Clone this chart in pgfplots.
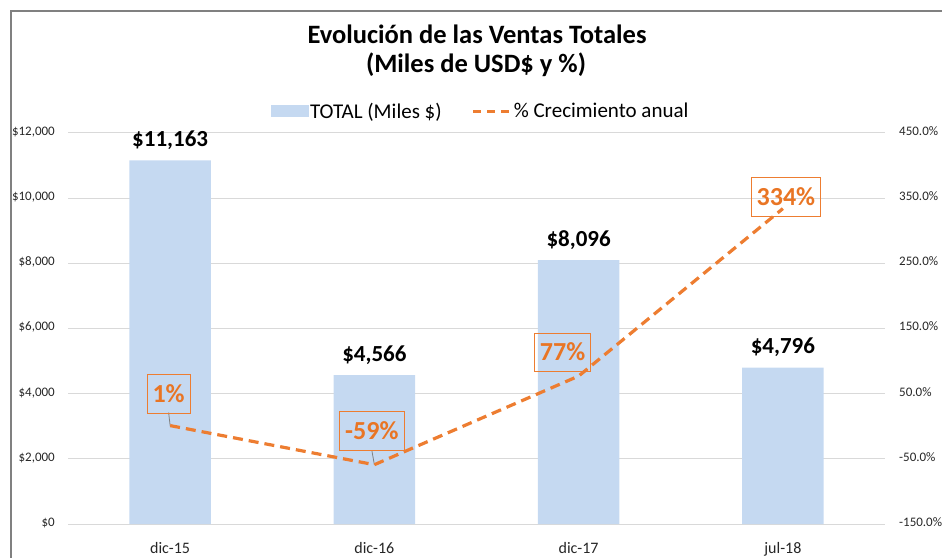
\documentclass[border=0pt]{standalone}
\usepackage{pgfplots}
\pgfplotsset{compat=1.18}
\usepackage{fontspec}
\setmainfont{Carlito}
\definecolor{barblue}{HTML}{C5D9F1}
\definecolor{lineor}{HTML}{ED7D31}
\definecolor{labor}{HTML}{E97524}
\definecolor{gridgray}{HTML}{D9D9D9}
\definecolor{framegray}{HTML}{808080}
\pgfplotsset{/pgf/number format/assume math mode=true}

\begin{document}
\begin{tikzpicture}[x=1pt,y=1pt]
\useasboundingbox (0,0) rectangle (942,557);
\draw[framegray, line width=1.5pt] (11,-5) -- (11,546) -- (960,546);
\node[font=\fontsize{26.5}{30}\selectfont\bfseries, anchor=base] at (477,513.7) {Evolución de las Ventas Totales};
\node[font=\fontsize{26.5}{30}\selectfont\bfseries, anchor=base] at (476,484.3) {(Miles de USD\$ y \%)};

\begin{axis}[
  at={(68pt,33pt)}, anchor=south west, scale only axis,
  width=817pt, height=391pt, clip=false,
  xmin=-0.5, xmax=3.5, ymin=0, ymax=12000,
  xtick={0,1,2,3}, xticklabels={dic-15,dic-16,dic-17,jul-18},
  ytick={0,2000,...,12000}, scaled y ticks=false,
  ymajorgrids, grid style={gridgray, line width=1pt},
  axis line style={draw=none}, major tick length=0pt,
  /pgf/number format/1000 sep={,},
  yticklabel={\$\pgfmathprintnumber{\tick}},
  yticklabel style={font=\fontsize{13}{15}\selectfont, text=black!85, inner sep=0pt, anchor=mid east, xshift=-13pt},
  xticklabel style={font=\fontsize{16}{18}\selectfont, text=black!85, inner sep=0pt, anchor=base, yshift=-29pt},
]
\addplot[ybar, bar width=0.4, fill=barblue, draw=none,
  point meta=y, nodes near coords={\$\pgfmathprintnumber{\pgfplotspointmeta}},
  nodes near coords style={font=\fontsize{23}{26}\selectfont\bfseries, text=black, anchor=base, inner sep=0pt, yshift=14pt}]
  table[x=x, y=y] {
x y
0 11163
1 4566
2 8096
3 4796
};
\end{axis}

\begin{axis}[
  at={(68pt,33pt)}, anchor=south west, scale only axis,
  width=817pt, height=391pt, clip=false,
  xmin=-0.5, xmax=3.5, ymin=-150, ymax=450,
  xtick=\empty, ytick={-150,-50,...,450},
  axis y line*=right, axis x line=none,
  axis line style={draw=none}, major tick length=0pt,
  yticklabel={\pgfmathprintnumber[fixed,fixed zerofill,precision=1]{\tick}\%},
  yticklabel style={font=\fontsize{13}{15}\selectfont, text=black!85, inner sep=0pt, anchor=mid west, xshift=14pt},
  legend style={at={(0.505,1.056)}, anchor=center, draw=none, fill=none,
    font=\fontsize{21}{24}\selectfont, legend columns=2, inner sep=0pt,
    /tikz/every even column/.append style={column sep=28pt}},
]
\addlegendimage{legend image code/.code={\fill[barblue] (0pt,-5.5pt) rectangle (37pt,5.5pt);}}
\addlegendentry{TOTAL (Miles \$)}
\addlegendimage{legend image code/.code={\draw[lineor, line width=3pt, dash pattern=on 8pt off 6pt] (0pt,0pt) -- (37pt,0pt);}}
\addlegendentry{\% Crecimiento anual}
\draw[gray, line width=0.8pt] (axis cs:0,1) -- ++(-1.5pt,13pt);
\draw[gray, line width=0.8pt] (axis cs:1,-59) -- ++(-2.5pt,14pt);
\addplot[lineor, line width=3.2pt, dash pattern=on 10pt off 6pt, mark=none,
  point meta=y,
  visualization depends on={\thisrow{dx}\as\dx},
  visualization depends on={\thisrow{dy}\as\dy},
  nodes near coords={\pgfmathprintnumber[fixed,precision=0]{\pgfplotspointmeta}\%},
  nodes near coords style={font=\fontsize{26}{29}\selectfont\bfseries, text=labor, draw=lineor, line width=0.9pt,
    anchor=center, xshift=\dx pt, yshift=\dy pt, inner xsep=5.5pt, inner ysep=11pt, text height=16.5pt, text depth=0pt, solid}]
  table[x=x, y=y] {
x y dx dy
0 1 -1.5 31.5
1 -59 -2.5 33.5
2 77 -16 23.5
3 334 3 11.5
};
\end{axis}
\end{tikzpicture}
\end{document}
